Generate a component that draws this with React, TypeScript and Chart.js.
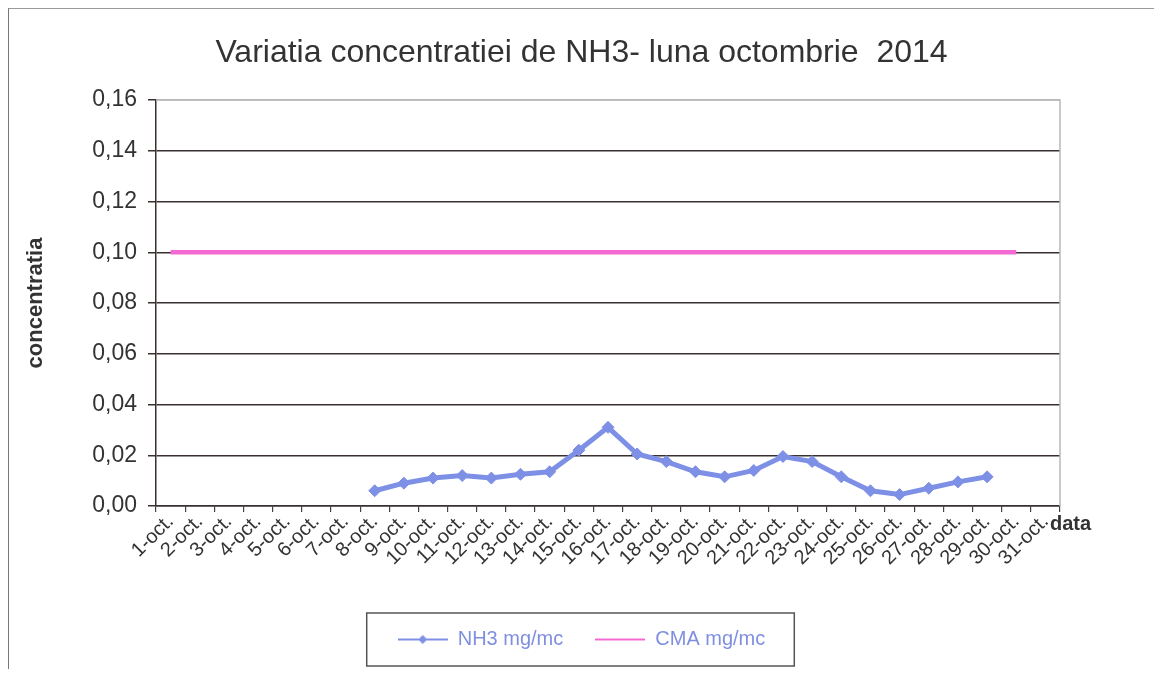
import React, { useEffect, useRef } from "react";
import { Chart, registerables } from "chart.js";

Chart.register(...registerables);

const TITLE = "Variatia concentratiei de NH3- luna octombrie  2014";
const Y_TITLE = "concentratia";
const X_TITLE = "data";

const dates = [
  "1-oct.", "2-oct.", "3-oct.", "4-oct.", "5-oct.", "6-oct.", "7-oct.", "8-oct.",
  "9-oct.", "10-oct.", "11-oct.", "12-oct.", "13-oct.", "14-oct.", "15-oct.", "16-oct.",
  "17-oct.", "18-oct.", "19-oct.", "20-oct.", "21-oct.", "22-oct.", "23-oct.", "24-oct.",
  "25-oct.", "26-oct.", "27-oct.", "28-oct.", "29-oct.", "30-oct.", "31-oct.",
];

const nh3 = [
  null, null, null, null, null, null, null, 0.006,
  0.009, 0.011, 0.012, 0.011, 0.0125, 0.0135, 0.022, 0.031,
  0.0205, 0.0175, 0.0135, 0.0115, 0.014, 0.0195, 0.0175, 0.0115,
  0.006, 0.0045, 0.007, 0.0095, 0.0115, null, null,
];

const cma = [
  0.1, 0.1, 0.1, 0.1, 0.1, 0.1, 0.1, 0.1,
  0.1, 0.1, 0.1, 0.1, 0.1, 0.1, 0.1, 0.1,
  0.1, 0.1, 0.1, 0.1, 0.1, 0.1, 0.1, 0.1,
  0.1, 0.1, 0.1, 0.1, 0.1, 0.1, null,
];

const seriesNames = ["NH3 mg/mc", "CMA mg/mc"];
const Y_MIN = 0;
const Y_MAX = 0.16;
const Y_STEP = 0.02;

const BLUE = "#7d90e6";
const PINK = "#f46ad4";
const TEXT = "#333333";
const GRID = "#3a3030";
const FONT = "Arial, 'Liberation Sans', sans-serif";

function makeLegendIcon(color: string, marker: boolean) {
  const c = document.createElement("canvas");
  c.width = 50;
  c.height = 12;
  const g = c.getContext("2d")!;
  g.strokeStyle = color;
  g.lineWidth = 2;
  g.beginPath();
  g.moveTo(0, 6);
  g.lineTo(50, 6);
  g.stroke();
  if (marker) {
    g.fillStyle = color;
    g.beginPath();
    g.moveTo(25, 1.5);
    g.lineTo(29.5, 6);
    g.lineTo(25, 10.5);
    g.lineTo(20.5, 6);
    g.closePath();
    g.fill();
  }
  return c;
}

const decorPlugin = {
  id: "decor",
  beforeDatasetsDraw(chart: any) {
    const { ctx, chartArea } = chart;
    ctx.save();
    ctx.strokeStyle = "#b8b8b8";
    ctx.lineWidth = 1.5;
    ctx.beginPath();
    ctx.moveTo(chartArea.left, chartArea.top);
    ctx.lineTo(chartArea.right, chartArea.top);
    ctx.lineTo(chartArea.right, chartArea.bottom);
    ctx.stroke();
    ctx.restore();
  },
  afterDraw(chart: any) {
    const { ctx, chartArea } = chart;
    ctx.save();
    // x-axis title
    ctx.font = "bold 20px " + FONT;
    const w = ctx.measureText(X_TITLE).width;
    const tx = chartArea.right - 10;
    const ty = chartArea.bottom + 18;
    ctx.fillStyle = "#ffffff";
    ctx.fillRect(tx - 2, ty - 12, w + 4, 24);
    ctx.fillStyle = TEXT;
    ctx.textBaseline = "middle";
    ctx.textAlign = "left";
    ctx.fillText(X_TITLE, tx, ty);
    // legend box
    const lg = chart.legend;
    if (lg && lg.legendHitBoxes && lg.legendHitBoxes.length) {
      const hb = lg.legendHitBoxes;
      const first = hb[0];
      const last = hb[hb.length - 1];
      const cy = first.top + first.height / 2;
      const x0 = first.left - 31;
      const x1 = last.left + last.width + 29;
      ctx.strokeStyle = "#555555";
      ctx.lineWidth = 1.5;
      ctx.strokeRect(x0, cy - 26.5, x1 - x0, 53);
    }
    ctx.restore();
  },
};

export default function App() {
  const ref = useRef<HTMLCanvasElement | null>(null);

  useEffect(() => {
    if (!ref.current) return;
    const icons = [makeLegendIcon(BLUE, true), makeLegendIcon(PINK, false)];
    const chart = new Chart(ref.current, {
      type: "line",
      data: {
        labels: dates,
        datasets: [
          {
            label: seriesNames[0],
            data: nh3,
            borderColor: BLUE,
            backgroundColor: BLUE,
            borderWidth: 5,
            pointStyle: "rectRot",
            pointRadius: 6,
            pointBorderWidth: 1,
            pointBackgroundColor: BLUE,
            pointBorderColor: BLUE,
            tension: 0,
            spanGaps: false,
          },
          {
            label: seriesNames[1],
            data: cma,
            borderColor: PINK,
            backgroundColor: PINK,
            borderWidth: 4.5,
            pointRadius: 0,
            tension: 0,
            spanGaps: false,
          },
        ],
      },
      options: {
        responsive: false,
        animation: false,
        devicePixelRatio: 1,
        layout: { padding: { left: 0, right: 0, top: 0, bottom: 11.5 } },
        plugins: {
          title: {
            display: true,
            text: TITLE,
            color: TEXT,
            font: { family: FONT, size: 32, weight: "normal" },
            padding: { top: 25, bottom: 27.6 },
          },
          legend: {
            display: true,
            position: "bottom",
            maxHeight: 60,
            labels: {
              usePointStyle: true,
              pointStyleWidth: 50,
              padding: 32,
              color: "#7f8fe0",
              font: { family: FONT, size: 20 },
              generateLabels: (ch: any) =>
                ch.data.datasets.map((ds: any, i: number) => ({
                  text: ds.label,
                  fillStyle: ds.borderColor,
                  strokeStyle: ds.borderColor,
                  lineWidth: 0,
                  pointStyle: icons[i],
                  hidden: false,
                  datasetIndex: i,
                  fontColor: "#7f8fe0",
                })),
            },
          },
          tooltip: { enabled: false },
        },
        scales: {
          x: {
            type: "category",
            offset: true,
            grid: {
              display: true,
              offset: true,
              drawOnChartArea: false,
              drawTicks: true,
              tickLength: 6,
              color: "#444444",
              lineWidth: 1.2,
            },
            border: { display: true, color: GRID, width: 1.5 },
            ticks: {
              autoSkip: false,
              maxRotation: 45,
              minRotation: 45,
              padding: -2,
              color: TEXT,
              font: { family: FONT, size: 20 },
            },
            afterFit: (s: any) => {
              s.height = 91.5;
            },
          },
          y: {
            type: "linear",
            position: "left",
            min: Y_MIN,
            max: Y_MAX,
            ticks: {
              stepSize: Y_STEP,
              padding: 11,
              color: TEXT,
              font: { family: FONT, size: 23 },
              callback: (v: any) => Number(v).toFixed(2).replace(".", ","),
            },
            grid: {
              color: (c: any) => (c.tick && Math.abs(c.tick.value - Y_MAX) < 1e-9 ? "#b8b8b8" : GRID),
              tickColor: GRID,
              lineWidth: 1.5,
              tickLength: 8,
            },
            border: { display: true, color: GRID, width: 1.5 },
            title: {
              display: true,
              text: Y_TITLE,
              color: TEXT,
              font: { family: FONT, size: 22, weight: "bold" },
              padding: { top: 14, bottom: 0 },
            },
            afterFit: (s: any) => {
              s.width = 147;
            },
          },
          yRight: {
            type: "linear",
            position: "right",
            display: true,
            grid: { display: false, drawTicks: false },
            border: { display: false },
            ticks: { display: false },
            afterFit: (s: any) => {
              s.width = 94;
            },
          },
        },
      },
      plugins: [decorPlugin],
    } as any);
    return () => chart.destroy();
  }, []);

  return (
    <div
      style={{
        borderLeft: "1px solid #777",
        borderTop: "1px solid #999",
        width: 1145,
        height: 660,
        background: "#fff",
      }}
    >
      <canvas ref={ref} width={1145} height={660} style={{ display: "block" }} />
    </div>
  );
}
